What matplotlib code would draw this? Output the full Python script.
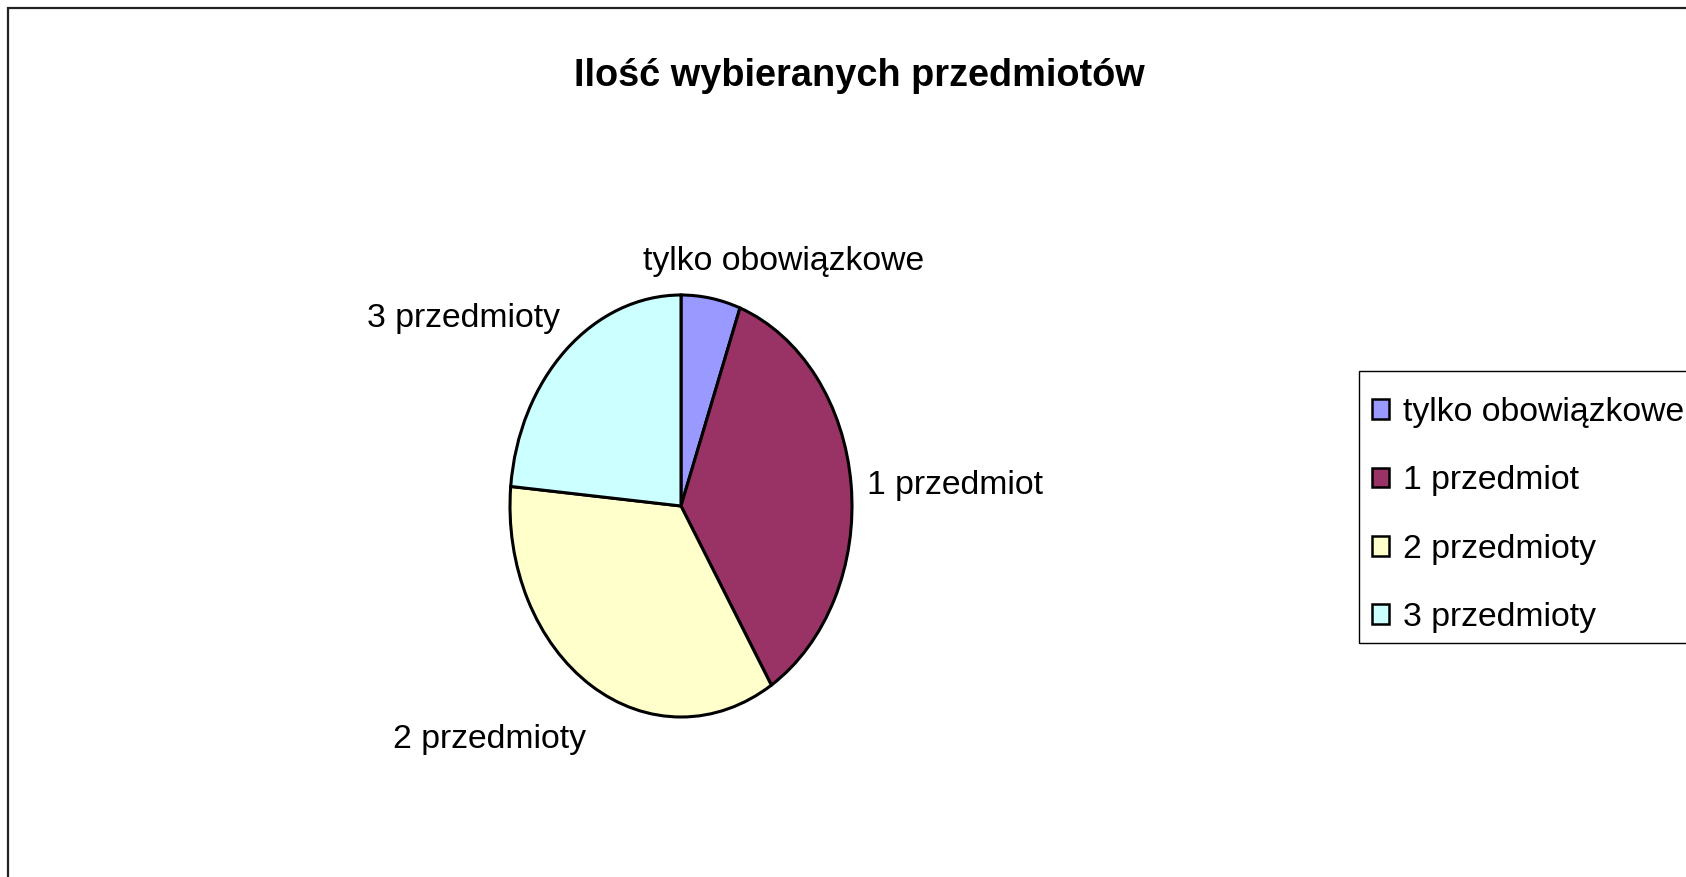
import matplotlib
matplotlib.use('Agg')
import matplotlib.pyplot as plt
from matplotlib.patches import Rectangle

plt.rcParams['font.family'] = ['Liberation Sans', 'DejaVu Sans']

categories = ['tylko obowiązkowe', '1 przedmiot', '2 przedmioty', '3 przedmioty']
shares = [5.6, 35.5, 35.3, 23.5]
colors = ['#9999FF', '#993366', '#FFFFCC', '#CCFFFF']
title_text = 'Ilość wybieranych przedmiotów'

# label centres in pie units (Excel places them by hand-ish)
label_pos = [(0.60, 1.157), (1.60, 0.096), (-1.117, -1.106), (-1.27, 0.887)]

W, H = 1686, 877
fig = plt.figure(figsize=(W / 100, H / 100), dpi=100)
fig.patch.set_facecolor('white')

# chart area frame (cut at right and bottom like the source)
fig.patches.append(Rectangle((8 / W, -0.1), 1.2, 1 - 8 / H + 0.1,
                             transform=fig.transFigure, fill=False,
                             edgecolor='#222222', linewidth=1.6))

# pie axes: rx ~171 px, ry ~211 px, centre ~ (681, 506)
cx, cy, rx, ry = 681, 506, 171, 211
ax = fig.add_axes([(cx - 1.25 * rx) / W, (H - cy - 1.25 * ry) / H,
                   2.5 * rx / W, 2.5 * ry / H])
wedges, _ = ax.pie(shares, colors=colors, startangle=90, counterclock=False,
                   wedgeprops=dict(edgecolor='black', linewidth=2.2))
ax.set_aspect('auto')
ax.set_xlim(-1.25, 1.25)
ax.set_ylim(-1.25, 1.25)
ax.axis('off')

for name, (lx, ly) in zip(categories, label_pos):
    ax.text(lx, ly, name, ha='center', va='center', fontsize=24.3, color='black')

fig.text(0.51, 1 - 75.5 / H, title_text, ha='center', va='center',
         fontsize=27.3, fontweight='bold')

# legend box drawn separately so the rows can sit a bit lower inside it
fig.patches.append(Rectangle((1359 / W, 1 - 643 / H), 0.5, (643 - 371) / H,
                             transform=fig.transFigure, fill=False,
                             edgecolor='black', linewidth=1.0))
leg = fig.legend(wedges, categories, loc='upper left',
                 bbox_to_anchor=(1354 / W, 1 - 379.5 / H),
                 bbox_transform=fig.transFigure, borderaxespad=0,
                 fontsize=24.3, frameon=False,
                 handlelength=0.52, handleheight=0.52, handletextpad=0.4,
                 labelspacing=1.105, borderpad=0.52)
for h in leg.legend_handles:
    h.set_edgecolor('black')
    h.set_linewidth(1.8)

fig.savefig('out.png', dpi=100)
